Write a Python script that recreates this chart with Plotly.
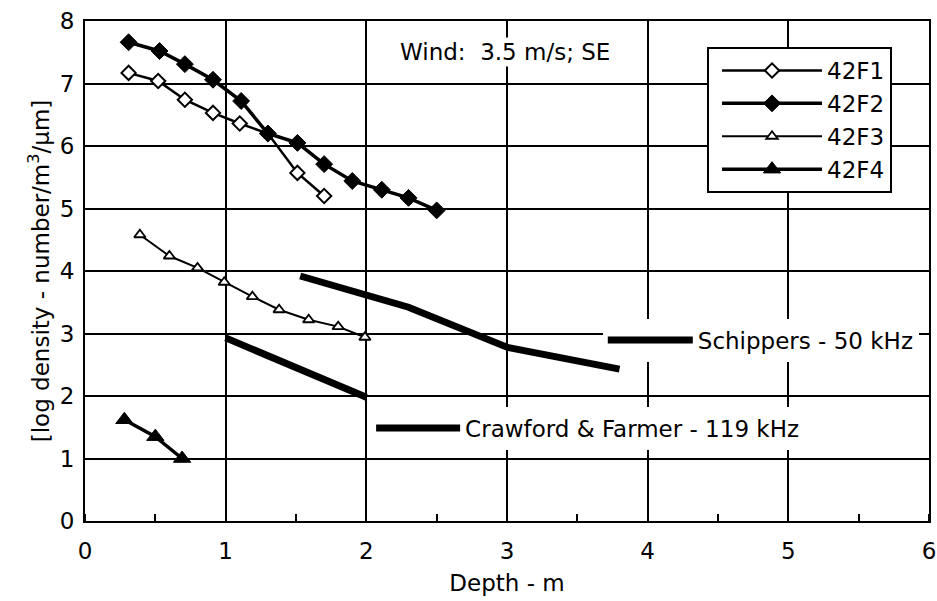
import plotly.graph_objects as go

# ---- data ----
depth_42f1 = [0.31, 0.52, 0.71, 0.91, 1.10, 1.30, 1.51, 1.70]
dens_42f1 = [7.17, 7.04, 6.74, 6.53, 6.36, 6.20, 5.57, 5.20]

depth_42f2 = [0.31, 0.53, 0.71, 0.91, 1.11, 1.30, 1.51, 1.70, 1.90, 2.11, 2.30, 2.50]
dens_42f2 = [7.66, 7.52, 7.31, 7.06, 6.72, 6.20, 6.05, 5.71, 5.44, 5.30, 5.17, 4.97]

depth_42f3 = [0.39, 0.60, 0.80, 0.99, 1.19, 1.38, 1.59, 1.80, 1.99]
dens_42f3 = [4.58, 4.24, 4.05, 3.82, 3.59, 3.38, 3.22, 3.11, 2.94]

depth_42f4 = [0.28, 0.50, 0.69]
dens_42f4 = [1.62, 1.35, 1.00]

depth_crawford = [1.00, 2.00]
dens_crawford = [2.93, 1.98]

depth_schippers = [1.53, 2.30, 3.00, 3.80]
dens_schippers = [3.92, 3.42, 2.78, 2.43]

x_ticks = [0, 1, 2, 3, 4, 5, 6]
y_ticks = [0, 1, 2, 3, 4, 5, 6, 7, 8]

FONT = "DejaVu Sans"
FS = 23

fig = go.Figure()

fig.add_trace(go.Scatter(
    x=depth_42f1, y=dens_42f1, mode="lines+markers", name="42F1",
    line=dict(color="black", width=2.5),
    marker=dict(symbol="diamond", size=11, color="white",
                line=dict(color="black", width=2)),
))
fig.add_trace(go.Scatter(
    x=depth_42f2, y=dens_42f2, mode="lines+markers", name="42F2",
    line=dict(color="black", width=3.5),
    marker=dict(symbol="diamond", size=13, color="black",
                line=dict(color="black", width=1)),
))
fig.add_trace(go.Scatter(
    x=depth_42f3, y=dens_42f3, mode="lines+markers", name="42F3",
    line=dict(color="black", width=2),
    marker=dict(symbol="triangle-up", size=10, color="white",
                line=dict(color="black", width=1.8)),
))
fig.add_trace(go.Scatter(
    x=depth_42f4, y=dens_42f4, mode="lines+markers", name="42F4",
    line=dict(color="black", width=3.5),
    marker=dict(symbol="triangle-up", size=15, color="black",
                line=dict(color="black", width=1)),
))
fig.add_trace(go.Scatter(
    x=depth_schippers, y=dens_schippers, mode="lines",
    name="Schippers - 50 kHz", legend="legend2",
    line=dict(color="black", width=7),
))
fig.add_trace(go.Scatter(
    x=depth_crawford, y=dens_crawford, mode="lines",
    name="Crawford & Farmer - 119 kHz", legend="legend3",
    line=dict(color="black", width=7),
))

fig.add_annotation(
    x=2.985, y=7.51, xref="x", yref="y",
    text="Wind:  3.5 m/s; SE", showarrow=False,
    font=dict(family=FONT, size=FS, color="black"),
    bgcolor="white",
)

fig.update_xaxes(
    range=[0, 6], tickvals=x_ticks, ticktext=[str(v) for v in x_ticks],
    showgrid=True, gridcolor="black", gridwidth=1.5,
    showline=True, linecolor="black", linewidth=2, mirror=True,
    zeroline=False, ticks="", ticklabelstandoff=8, automargin=False,
    ticklabeloverflow="allow",
    tickfont=dict(family=FONT, size=FS, color="black"),
    minor=dict(dtick=0.5, ticks="inside", ticklen=7, tickcolor="black",
               tickwidth=1.5, showgrid=False),
    title=dict(text="Depth - m", font=dict(family=FONT, size=FS, color="black"),
               standoff=12),
)
fig.update_yaxes(
    range=[0, 8], tickvals=y_ticks, ticktext=[str(v) for v in y_ticks],
    showgrid=True, gridcolor="black", gridwidth=1.5,
    showline=True, linecolor="black", linewidth=2, mirror=True,
    zeroline=False, ticks="", ticklabelstandoff=4, automargin=False,
    tickfont=dict(family=FONT, size=FS, color="black"),
    title=dict(text="[log density - number/m<sup>3</sup>/μm]",
               font=dict(family=FONT, size=FS, color="black"), standoff=4),
)

fig.update_layout(
    width=937, height=601,
    margin=dict(l=85, r=8, t=21, b=80),
    plot_bgcolor="white", paper_bgcolor="white",
    font=dict(family=FONT, size=FS, color="black"),
    legend=dict(x=0.737, y=0.948, xanchor="left", yanchor="top",
                bordercolor="black", borderwidth=2, bgcolor="white",
                font=dict(family=FONT, size=FS, color="black"),
                itemwidth=100, indentation=8, tracegroupgap=0),
    legend2=dict(x=0.6135, y=0.362, xanchor="left", yanchor="middle",
                 borderwidth=0, bgcolor="white",
                 font=dict(family=FONT, size=FS, color="black"),
                 itemwidth=85),
    legend3=dict(x=0.339, y=0.186, xanchor="left", yanchor="middle",
                 borderwidth=0, bgcolor="white",
                 font=dict(family=FONT, size=FS, color="black"),
                 itemwidth=84),
    showlegend=True,
)

fig.write_html(
    "out.html",
    config={"displayModeBar": False},
    post_script="document.body.style.margin='0';document.body.style.overflow='hidden';",
)
